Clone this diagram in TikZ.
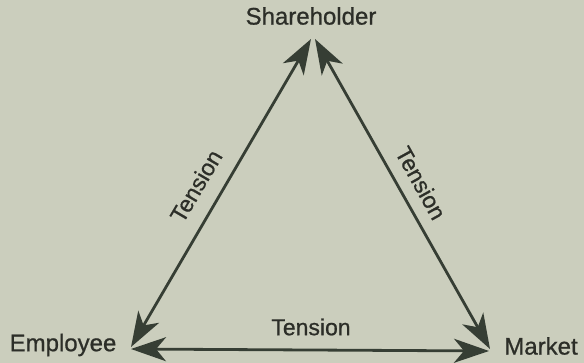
\documentclass[tikz,border=0pt]{standalone}
\usepackage{fontspec}
\setmainfont{Liberation Sans}[FakeBold=0.8]
\usetikzlibrary{arrows.meta}
\definecolor{paper}{HTML}{CBCEBD}
\definecolor{ink}{HTML}{2C2E28}
\definecolor{lineink}{HTML}{363E34}
\begin{document}
\begin{tikzpicture}[x=1pt,y=-1pt,
  lbl/.style={font=\fontsize{24}{28}\selectfont, text=ink, inner sep=0pt},
  tens/.style={font=\fontsize{23}{27}\selectfont, text=ink, inner sep=0pt},
  tip/.style={Stealth[length=35pt,width=24pt,inset=10pt]},
  conn/.style={draw=lineink, line width=2.8pt, {Stealth[length=35pt,width=24pt,inset=10pt]}-{Stealth[length=35pt,width=24pt,inset=10pt]}}]
\fill[paper] (0,0) rectangle (584,363);
\useasboundingbox (0,0) rectangle (584,363);
\node[lbl] (sh) at (311,16) {Shareholder};
\node[lbl] (emp) at (63,345) {Employee};
\node[lbl] (mkt) at (541,346) {Market};
\coordinate (shL) at (311,39);
\coordinate (shR) at (315,39);
\coordinate (empT) at (131,347);
\coordinate (empB) at (131,349);
\coordinate (mktT) at (490,349);
\coordinate (mktB) at (489,351);
\draw[conn] (shL) -- (empT);
\draw[conn] (shR) -- (mktT);
\draw[conn] (empB) -- (mktB);
\node[tens, rotate=59.5] (t1) at (196,186) {Tension};
\node[tens, rotate=-61] (t2) at (421,183) {Tension};
\node[tens] (t3) at (311,327) {Tension};
\end{tikzpicture}
\end{document}
